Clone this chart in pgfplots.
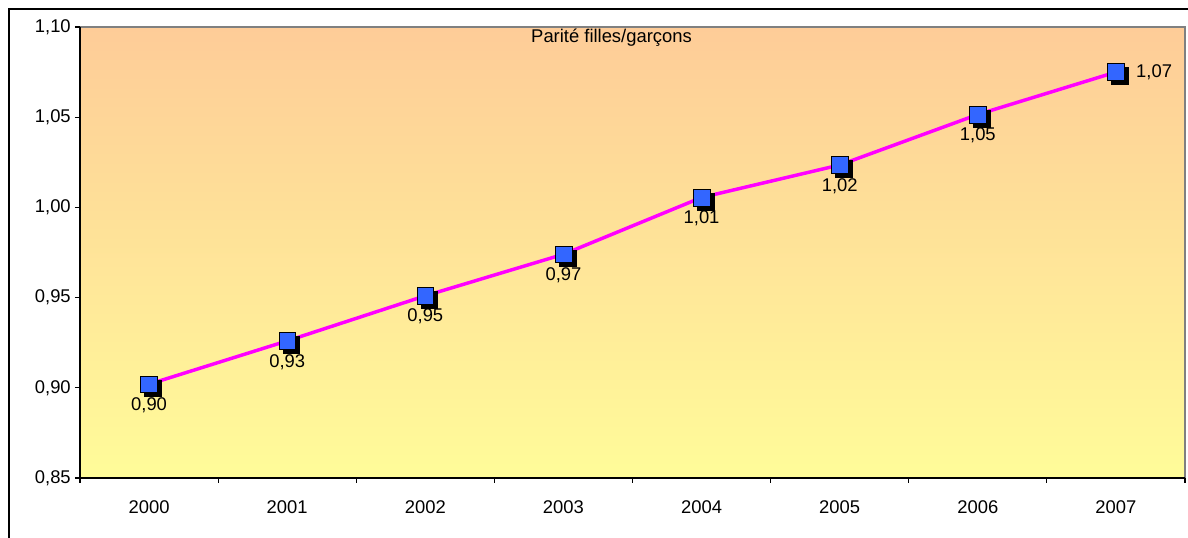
\documentclass[border=0pt]{standalone}
\usepackage{pgfplots}
\pgfplotsset{compat=1.18}
\usepackage{fontspec}
\setmainfont{Liberation Sans}
\definecolor{mkblue}{RGB}{51,102,255}
\definecolor{bgtop}{RGB}{254,204,152}
\definecolor{bgbot}{RGB}{255,252,153}
\definecolor{lnmag}{RGB}{255,0,255}
\pgfplotstableread{
x y label
0 0.902 0,90
1 0.926 0,93
2 0.951 0,95
3 0.974 0,97
4 1.0055 1,01
5 1.0235 1,02
6 1.0515 1,05
}\lowdata
\pgfplotstableread{
x y label
7 1.075 1,07
}\lastdata
\pgfplotstableread{
x y
0 0.902
1 0.926
2 0.951
3 0.974
4 1.0055
5 1.0235
6 1.0515
7 1.075
}\alldata
\begin{document}
\begin{tikzpicture}
\useasboundingbox (0,0) rectangle (891pt,403.5pt);
\draw[black, line width=1pt] (6.75pt,-10pt) -- (6.75pt,396.75pt) -- (900pt,396.75pt);
\begin{axis}[
  at={(60pt,45pt)}, anchor=south west,
  scale only axis, width=828.75pt, height=338.25pt,
  xmin=-0.5, xmax=7.5, ymin=0.85, ymax=1.10,
  axis lines*=left,
  axis line style={-, black, line width=0.9pt},
  axis background/.style={top color=bgtop, bottom color=bgbot, draw=gray, line width=0.9pt},
  tick align=outside, major tick length=3.75pt,
  tick style={black, line width=0.8pt},
  ytick={0.85,0.90,0.95,1.00,1.05,1.10},
  /pgf/number format/fixed,
  /pgf/number format/fixed zerofill,
  /pgf/number format/precision=2,
  /pgf/number format/use comma,
  /pgf/number format/assume math mode=true,
  y tick label style={anchor=east, inner sep=0pt, xshift=-3pt},
  xtick={-0.5,0.5,1.5,2.5,3.5,4.5,5.5,6.5,7.5},
  xticklabels={},
  extra x ticks={0,1,2,3,4,5,6,7},
  extra x tick labels={2000,2001,2002,2003,2004,2005,2006,2007},
  extra x tick style={major tick length=0pt},
  x tick label style={anchor=north, inner sep=0pt, yshift=-16.5pt},
  every tick label/.append style={font=\fontsize{13.8}{16}\selectfont},
  title={Parité filles/garçons},
  title style={at={(0.481,0.994)}, anchor=north, inner sep=0pt, yshift=-5pt, font=\fontsize{13.8}{16}\selectfont},
  clip=false,
]
\addplot[lnmag, line width=2.6pt, mark=none] table[x=x, y=y] {\alldata};
\addplot[only marks, mark=square*, mark size=6.3pt, mark options={draw=none, fill=black, xshift=3pt, yshift=-3pt}] table[x=x, y=y] {\alldata};
\addplot[only marks, mark=square*, mark size=6.3pt, mark options={draw=none, fill=mkblue}] table[x=x, y=y] {\alldata};
\addplot[draw=none, mark=none, point meta=explicit symbolic, nodes near coords,
  nodes near coords align={below},
  every node near coord/.append style={anchor=north, inner sep=0pt, yshift=-9.75pt, font=\fontsize{13.8}{16}\selectfont, text=black}]
  table[x=x, y=y, meta=label] {\lowdata};
\addplot[draw=none, mark=none, point meta=explicit symbolic, nodes near coords,
  nodes near coords align={center},
  every node near coord/.append style={anchor=west, inner sep=0pt, xshift=15pt, font=\fontsize{13.8}{16}\selectfont, text=black}]
  table[x=x, y=y, meta=label] {\lastdata};
\end{axis}
\end{tikzpicture}
\end{document}
